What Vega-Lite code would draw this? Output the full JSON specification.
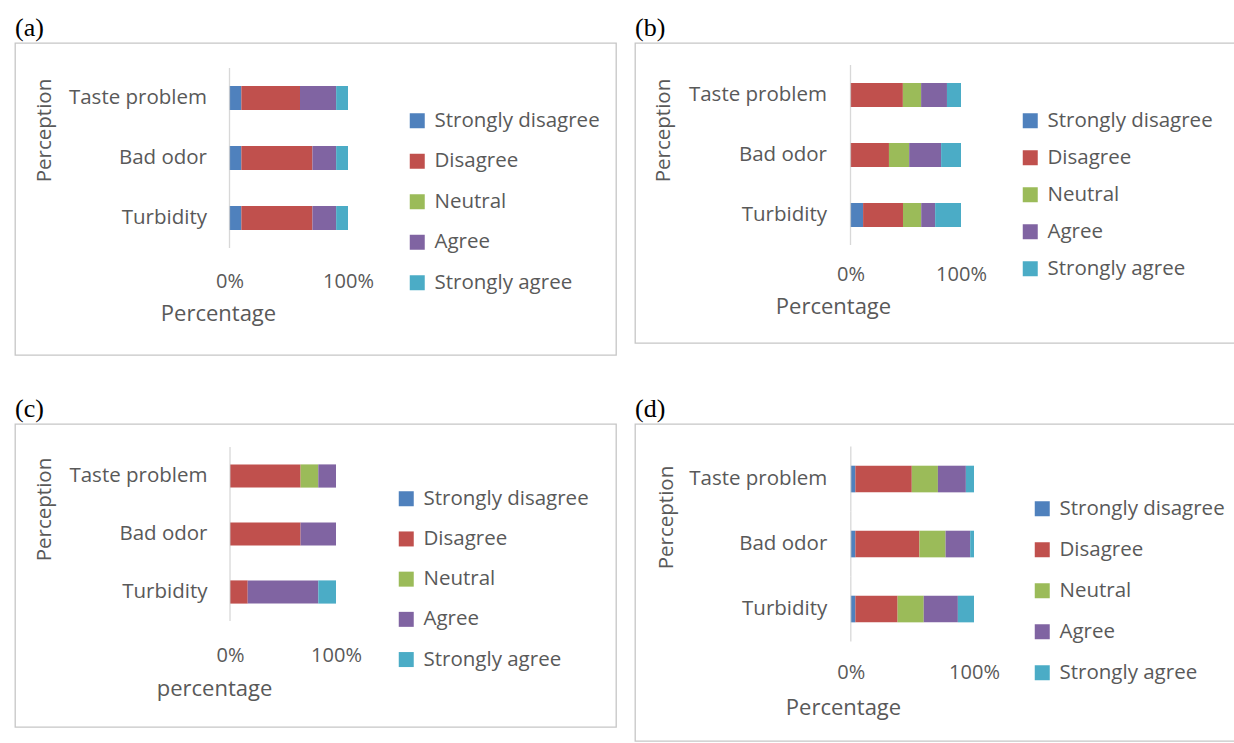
{
  "$schema": "https://vega.github.io/schema/vega-lite/v6.json",
  "padding": {"left": 14, "top": 14, "right": 0, "bottom": 0},
  "background": "white",
  "datasets": {
    "cats": [{"cat": "Taste problem"}, {"cat": "Bad odor"}, {"cat": "Turbidity"}],
    "survey": [
      {"panel": "a", "cat": "Taste problem", "response": "Strongly disagree", "k": 1, "value": 10},
      {"panel": "a", "cat": "Taste problem", "response": "Disagree", "k": 2, "value": 49.5},
      {"panel": "a", "cat": "Taste problem", "response": "Agree", "k": 4, "value": 30.5},
      {"panel": "a", "cat": "Taste problem", "response": "Strongly agree", "k": 5, "value": 10},
      {"panel": "a", "cat": "Bad odor", "response": "Strongly disagree", "k": 1, "value": 10},
      {"panel": "a", "cat": "Bad odor", "response": "Disagree", "k": 2, "value": 60},
      {"panel": "a", "cat": "Bad odor", "response": "Agree", "k": 4, "value": 20},
      {"panel": "a", "cat": "Bad odor", "response": "Strongly agree", "k": 5, "value": 10},
      {"panel": "a", "cat": "Turbidity", "response": "Strongly disagree", "k": 1, "value": 10},
      {"panel": "a", "cat": "Turbidity", "response": "Disagree", "k": 2, "value": 60},
      {"panel": "a", "cat": "Turbidity", "response": "Agree", "k": 4, "value": 20},
      {"panel": "a", "cat": "Turbidity", "response": "Strongly agree", "k": 5, "value": 10},
      {"panel": "b", "cat": "Taste problem", "response": "Disagree", "k": 2, "value": 47.4},
      {"panel": "b", "cat": "Taste problem", "response": "Neutral", "k": 3, "value": 16.5},
      {"panel": "b", "cat": "Taste problem", "response": "Agree", "k": 4, "value": 23.4},
      {"panel": "b", "cat": "Taste problem", "response": "Strongly agree", "k": 5, "value": 12.7},
      {"panel": "b", "cat": "Bad odor", "response": "Disagree", "k": 2, "value": 34.8},
      {"panel": "b", "cat": "Bad odor", "response": "Neutral", "k": 3, "value": 18.3},
      {"panel": "b", "cat": "Bad odor", "response": "Agree", "k": 4, "value": 28.9},
      {"panel": "b", "cat": "Bad odor", "response": "Strongly agree", "k": 5, "value": 18},
      {"panel": "b", "cat": "Turbidity", "response": "Strongly disagree", "k": 1, "value": 11.4},
      {"panel": "b", "cat": "Turbidity", "response": "Disagree", "k": 2, "value": 36.1},
      {"panel": "b", "cat": "Turbidity", "response": "Neutral", "k": 3, "value": 16.5},
      {"panel": "b", "cat": "Turbidity", "response": "Agree", "k": 4, "value": 12.6},
      {"panel": "b", "cat": "Turbidity", "response": "Strongly agree", "k": 5, "value": 23.4},
      {"panel": "c", "cat": "Taste problem", "response": "Disagree", "k": 2, "value": 66.6},
      {"panel": "c", "cat": "Taste problem", "response": "Neutral", "k": 3, "value": 16.7},
      {"panel": "c", "cat": "Taste problem", "response": "Agree", "k": 4, "value": 16.7},
      {"panel": "c", "cat": "Bad odor", "response": "Disagree", "k": 2, "value": 66.6},
      {"panel": "c", "cat": "Bad odor", "response": "Agree", "k": 4, "value": 33.4},
      {"panel": "c", "cat": "Turbidity", "response": "Disagree", "k": 2, "value": 16.7},
      {"panel": "c", "cat": "Turbidity", "response": "Agree", "k": 4, "value": 66.6},
      {"panel": "c", "cat": "Turbidity", "response": "Strongly agree", "k": 5, "value": 16.7},
      {"panel": "d", "cat": "Taste problem", "response": "Strongly disagree", "k": 1, "value": 3.7},
      {"panel": "d", "cat": "Taste problem", "response": "Disagree", "k": 2, "value": 45.8},
      {"panel": "d", "cat": "Taste problem", "response": "Neutral", "k": 3, "value": 21.2},
      {"panel": "d", "cat": "Taste problem", "response": "Agree", "k": 4, "value": 22.7},
      {"panel": "d", "cat": "Taste problem", "response": "Strongly agree", "k": 5, "value": 6.6},
      {"panel": "d", "cat": "Bad odor", "response": "Strongly disagree", "k": 1, "value": 3.7},
      {"panel": "d", "cat": "Bad odor", "response": "Disagree", "k": 2, "value": 52},
      {"panel": "d", "cat": "Bad odor", "response": "Neutral", "k": 3, "value": 21.2},
      {"panel": "d", "cat": "Bad odor", "response": "Agree", "k": 4, "value": 20},
      {"panel": "d", "cat": "Bad odor", "response": "Strongly agree", "k": 5, "value": 3.1},
      {"panel": "d", "cat": "Turbidity", "response": "Strongly disagree", "k": 1, "value": 3.7},
      {"panel": "d", "cat": "Turbidity", "response": "Disagree", "k": 2, "value": 34.3},
      {"panel": "d", "cat": "Turbidity", "response": "Neutral", "k": 3, "value": 21.2},
      {"panel": "d", "cat": "Turbidity", "response": "Agree", "k": 4, "value": 27.7},
      {"panel": "d", "cat": "Turbidity", "response": "Strongly agree", "k": 5, "value": 13.1}
    ]
  },
  "columns": 2,
  "spacing": {"row": 39, "column": 17},
  "resolve": {"scale": {"color": "independent"}, "legend": {"color": "independent"}},
  "concat": [
    {
      "title": {"text": "(a)"},
      "width": 601, "height": 312,
      "layer": [
        {
          "data": {"name": "survey"},
          "transform": [{"filter": "datum.panel === 'a'"}],
          "mark": {"type": "bar"},
          "encoding": {
            "y": {"field": "cat", "type": "nominal", "sort": ["Taste problem", "Bad odor", "Turbidity"], "scale": {"paddingInner": 0.6, "paddingOuter": 0, "range": [43, 187]},
                  "axis": {"title": "Perception", "orient": "left", "offset": -214.5, "labelPadding": 23, "titleX": -185.5, "titleY": 87}},
            "x": {"field": "value", "type": "quantitative", "stack": "normalize", "scale": {"domain": [-1.8101, 3.2616], "nice": false, "zero": false},
                  "axis": {"title": "Percentage", "orient": "bottom", "offset": -74, "values": [0, 1], "format": "%", "titleX": 203, "titleY": 32}},
            "color": {"field": "response", "type": "nominal",
                      "scale": {"domain": ["Strongly disagree", "Disagree", "Neutral", "Agree", "Strongly agree"], "range": ["#4F81BD", "#C0504D", "#9BBB59", "#8064A2", "#4BACC6"]},
                      "legend": {"legendX": 392, "legendY": 67.5, "rowPadding": 19.5}},
            "order": {"field": "k", "type": "quantitative"}
          }
        },
        {
          "data": {"name": "cats"},
          "mark": {"type": "tick", "color": "#C8C8C8", "thickness": 1.3},
          "encoding": {
            "y": {"field": "cat", "type": "nominal", "sort": ["Taste problem", "Bad odor", "Turbidity"], "scale": {"paddingInner": 0.6, "paddingOuter": 0, "range": [43, 187]}},
            "x": {"datum": 0, "type": "quantitative"},
            "size": {"value": 60}
          }
        }
      ]
    },
    {
      "title": {"text": "(b)"},
      "width": 601, "height": 300,
      "layer": [
        {
          "data": {"name": "survey"},
          "transform": [{"filter": "datum.panel === 'b'"}],
          "mark": {"type": "bar"},
          "encoding": {
            "y": {"field": "cat", "type": "nominal", "sort": ["Taste problem", "Bad odor", "Turbidity"], "scale": {"paddingInner": 0.6, "paddingOuter": 0, "range": [40, 184]},
                  "axis": {"title": "Perception", "orient": "left", "offset": -215.5, "labelPadding": 24, "titleX": -187.5, "titleY": 87}},
            "x": {"field": "value", "type": "quantitative", "stack": "normalize", "scale": {"domain": [-1.9502, 3.4887], "nice": false, "zero": false},
                  "axis": {"title": "Percentage", "orient": "bottom", "offset": -69, "values": [0, 1], "format": "%", "titleX": 198, "titleY": 32}},
            "color": {"field": "response", "type": "nominal",
                      "scale": {"domain": ["Strongly disagree", "Disagree", "Neutral", "Agree", "Strongly agree"], "range": ["#4F81BD", "#C0504D", "#9BBB59", "#8064A2", "#4BACC6"]},
                      "legend": {"legendX": 385, "legendY": 67.5, "rowPadding": 16}},
            "order": {"field": "k", "type": "quantitative"}
          }
        },
        {
          "data": {"name": "cats"},
          "mark": {"type": "tick", "color": "#C8C8C8", "thickness": 1.3},
          "encoding": {
            "y": {"field": "cat", "type": "nominal", "sort": ["Taste problem", "Bad odor", "Turbidity"], "scale": {"paddingInner": 0.6, "paddingOuter": 0, "range": [40, 184]}},
            "x": {"datum": 0, "type": "quantitative"},
            "size": {"value": 60}
          }
        }
      ]
    },
    {
      "title": {"text": "(c)"},
      "width": 601, "height": 303,
      "layer": [
        {
          "data": {"name": "survey"},
          "transform": [{"filter": "datum.panel === 'c'"}],
          "mark": {"type": "bar"},
          "encoding": {
            "y": {"field": "cat", "type": "nominal", "sort": ["Taste problem", "Bad odor", "Turbidity"], "scale": {"paddingInner": 0.6, "paddingOuter": 0, "range": [40.4, 179.6]},
                  "axis": {"title": "Perception", "orient": "left", "offset": -215, "labelPadding": 23, "titleX": -186, "titleY": 85}},
            "x": {"field": "value", "type": "quantitative", "stack": "normalize", "scale": {"domain": [-2.0283, 3.6415], "nice": false, "zero": false},
                  "axis": {"title": "percentage", "orient": "bottom", "offset": -72, "values": [0, 1], "format": "%", "titleX": 199, "titleY": 33}},
            "color": {"field": "response", "type": "nominal",
                      "scale": {"domain": ["Strongly disagree", "Disagree", "Neutral", "Agree", "Strongly agree"], "range": ["#4F81BD", "#C0504D", "#9BBB59", "#8064A2", "#4BACC6"]},
                      "legend": {"legendX": 381, "legendY": 64.5, "rowPadding": 19.2}},
            "order": {"field": "k", "type": "quantitative"}
          }
        },
        {
          "data": {"name": "cats"},
          "mark": {"type": "tick", "color": "#C8C8C8", "thickness": 1.3},
          "encoding": {
            "y": {"field": "cat", "type": "nominal", "sort": ["Taste problem", "Bad odor", "Turbidity"], "scale": {"paddingInner": 0.6, "paddingOuter": 0, "range": [40.4, 179.6]}},
            "x": {"datum": 0, "type": "quantitative"},
            "size": {"value": 58}
          }
        }
      ]
    },
    {
      "title": {"text": "(d)"},
      "width": 601, "height": 317,
      "layer": [
        {
          "data": {"name": "survey"},
          "transform": [{"filter": "datum.panel === 'd'"}],
          "mark": {"type": "bar"},
          "encoding": {
            "y": {"field": "cat", "type": "nominal", "sort": ["Taste problem", "Bad odor", "Turbidity"], "scale": {"paddingInner": 0.59, "paddingOuter": 0, "range": [41.7, 198.35]},
                  "axis": {"title": "Perception", "orient": "left", "offset": -215.8, "labelPadding": 24, "titleX": -184.8, "titleY": 93}},
            "x": {"field": "value", "type": "quantitative", "stack": "normalize", "scale": {"domain": [-1.7516, 3.1266], "nice": false, "zero": false},
                  "axis": {"title": "Percentage", "orient": "bottom", "offset": -69, "values": [0, 1], "format": "%", "titleX": 208, "titleY": 35}},
            "color": {"field": "response", "type": "nominal",
                      "scale": {"domain": ["Strongly disagree", "Disagree", "Neutral", "Agree", "Strongly agree"], "range": ["#4F81BD", "#C0504D", "#9BBB59", "#8064A2", "#4BACC6"]},
                      "legend": {"legendX": 397, "legendY": 74.5, "rowPadding": 20}},
            "order": {"field": "k", "type": "quantitative"}
          }
        },
        {
          "data": {"name": "cats"},
          "mark": {"type": "tick", "color": "#C8C8C8", "thickness": 1.3},
          "encoding": {
            "y": {"field": "cat", "type": "nominal", "sort": ["Taste problem", "Bad odor", "Turbidity"], "scale": {"paddingInner": 0.59, "paddingOuter": 0, "range": [41.7, 198.35]}},
            "x": {"datum": 0, "type": "quantitative"},
            "size": {"value": 65}
          }
        }
      ]
    }
  ],
  "config": {
    "font": "Open Sans",
    "view": {"stroke": "#C6C6C6", "strokeWidth": 1.3},
    "title": {"anchor": "start", "frame": "group", "font": "Liberation Serif", "fontSize": 26, "fontWeight": "normal", "color": "#000000", "offset": 2},
    "axis": {"domain": false, "ticks": false, "grid": false, "labelFont": "Open Sans", "labelFontSize": 20.5, "labelColor": "#595959", "titleFont": "Open Sans", "titleFontSize": 20.5, "titleColor": "#595959", "titleFontWeight": "normal", "titleBaseline": "middle", "titleAlign": "center", "labelFlush": false, "labelLimit": 400},
    "axisX": {"labelPadding": 0, "labelBaseline": "middle", "labelFontSize": 20, "titleFontSize": 22},
    "axisY": {"titleAngle": -90},
    "legend": {"title": null, "orient": "none", "direction": "vertical", "symbolType": "square", "symbolSize": 225, "symbolStrokeWidth": 0, "labelFont": "Open Sans", "labelFontSize": 20.5, "labelColor": "#595959", "labelOffset": 7, "padding": 0, "labelLimit": 400}
  }
}
